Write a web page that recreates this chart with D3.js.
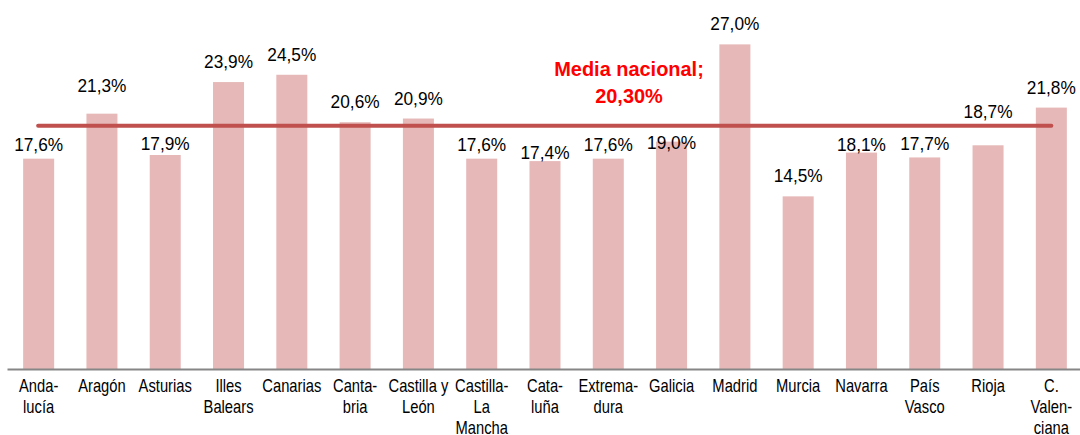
<!DOCTYPE html>
<html>
<head>
<meta charset="utf-8">
<script src="https://cdn.jsdelivr.net/npm/d3@7"></script>
<style>
  html, body { margin: 0; padding: 0; background: #fff; }
  svg { display: block; }
</style>
</head>
<body>
<svg id="chart" width="1080" height="435"></svg>
<script>
// ---- data ----
const categories = ["Anda-\nlucía", "Aragón", "Asturias", "Illes\nBalears", "Canarias", "Canta-\nbria",
  "Castilla y\nLeón", "Castilla-\nLa\nMancha", "Cata-\nluña", "Extrema-\ndura", "Galicia", "Madrid",
  "Murcia", "Navarra", "País\nVasco", "Rioja", "C.\nValen-\nciana"];
const values = [17.6, 21.3, 17.9, 23.9, 24.5, 20.6, 20.9, 17.6, 17.4, 17.6, 19.0, 27.0, 14.5, 18.1, 17.7, 18.7, 21.8];
const nationalMean = 20.3;
const meanLabel = ["Media nacional;", "20,30%"];

// ---- layout (manual label nudges, px, relative to default position above the bar) ----
const labelNudge = [6, -8, 9, 0, 0, 0, 0, 6, 12, 6, 21, 0, 0, 12, 7, -13, 0];

const fmt = v => v.toFixed(1).replace(".", ",") + "%";

const svg = d3.select("#chart");
const baseY = 369;

const x = d3.scaleBand()
  .domain(d3.range(categories.length))
  .range([7, 1083])
  .paddingInner(0.51)
  .paddingOuter(0.255);

const y = d3.scaleLinear().domain([0.3, 30]).range([baseY, 7.9]);

// bars
svg.append("g").selectAll("rect")
  .data(values)
  .join("rect")
  .attr("x", (d, i) => x(i))
  .attr("width", x.bandwidth())
  .attr("y", d => y(d))
  .attr("height", d => baseY - y(d))
  .attr("fill", "#e6b9b8");

// national mean line
const cx = i => x(i) + x.bandwidth() / 2;
svg.append("line")
  .attr("x1", cx(0) - 0.5)
  .attr("x2", cx(categories.length - 1))
  .attr("y1", y(nationalMean))
  .attr("y2", y(nationalMean))
  .attr("stroke", "#c0504d")
  .attr("stroke-width", 4)
  .attr("stroke-linecap", "round");

// value labels
svg.append("g").selectAll("text")
  .data(values)
  .join("text")
  .attr("transform", (d, i) => `translate(${cx(i)},${y(d) - 14 + labelNudge[i]}) scale(0.95,1)`)
  .attr("text-anchor", "middle")
  .attr("font-family", "'Liberation Sans', Arial, sans-serif")
  .attr("font-size", "18.2px")
  .attr("fill", "#000")
  .text(d => fmt(d));

// mean label
const ml = svg.append("text")
  .attr("text-anchor", "middle")
  .attr("font-family", "'Liberation Sans', Arial, sans-serif")
  .attr("font-weight", "bold")
  .attr("font-size", "21px")
  .attr("fill", "#ff0000")
  .attr("transform", "translate(629,0) scale(0.95,1)");
meanLabel.forEach((t, k) => {
  ml.append("tspan").attr("x", 0).attr("y", 76.5 + k * 26.8).text(t);
});

// x axis
const xAxis = d3.axisBottom(x).tickSize(0).tickSizeOuter(0).tickFormat(i => categories[i]);
const gx = svg.append("g").attr("transform", `translate(0,${baseY})`).call(xAxis);
gx.select(".domain").attr("stroke", "#868686").attr("stroke-width", 2);
gx.selectAll(".tick text").each(function(i) {
  const t = d3.select(this);
  const lines = categories[i].split("\n");
  t.text(null)
    .attr("y", 0).attr("dy", null)
    .attr("font-family", "'Liberation Sans', Arial, sans-serif")
    .attr("font-size", "18px")
    .attr("fill", "#000")
    .attr("transform", "scale(0.82,1)");
  lines.forEach((ln, k) => {
    t.append("tspan").attr("x", 0).attr("y", 23.5 + k * 20.8).text(ln);
  });
});
</script>
</body>
</html>
